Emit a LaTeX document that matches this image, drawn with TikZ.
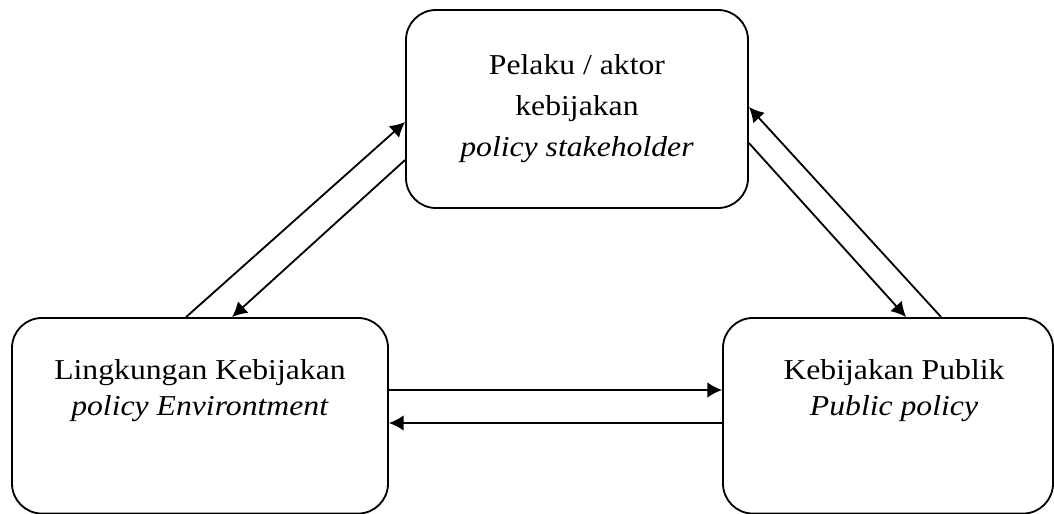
\documentclass[tikz,border=0pt]{standalone}
\usepackage{fontspec}
\setmainfont[FakeStretch=1.1]{Liberation Serif}
\usetikzlibrary{arrows.meta}

\begin{document}
\begin{tikzpicture}[line width=1.3pt,
        box/.style={draw, rounded corners=0.75cm},
        txt/.style={align=center, font=\fontsize{20.5}{25.6}\selectfont},
        arr/.style={-{Latex[length=0.37cm,width=0.39cm]}}]
        \useasboundingbox (0,0) rectangle (26.35,-12.85);

        \node[box, txt, minimum width=8.55cm, minimum height=4.95cm,
              font=\fontsize{20.5}{29.2}\selectfont] (T) at (14.425,-2.725)
              {Pelaku / aktor\\kebijakan\\\textit{policy stakeholder}};
        \node[box, minimum width=9.4cm, minimum height=4.89cm] (L) at (5.0,-10.394) {};
        \node[box, minimum width=8.25cm, minimum height=4.89cm] (R) at (22.2,-10.394) {};

        \node[txt] (Ltext) at ([yshift=0.64cm]L.center)
              {Lingkungan Kebijakan\\\textit{policy Environtment}};
        \node[txt] (Rtext) at ([xshift=0.15cm,yshift=0.64cm]R.center)
              {Kebijakan Publik\\\textit{Public policy}};

        \draw[arr] ([xshift=4.375cm]L.north west) -- ([yshift=-0.325cm]T.west);
        \draw[arr] ([yshift=-1.275cm]T.west) -- ([xshift=5.525cm]L.north west);
        \draw[arr] ([xshift=5.475cm]R.north west) -- ([yshift=0.05cm]T.east);
        \draw[arr] ([yshift=-0.85cm]T.east) -- ([xshift=4.6cm]R.north west);
        \draw[arr] ([yshift=0.644cm]L.east) -- ([yshift=0.644cm]R.west);
        \draw[arr] ([yshift=-0.181cm]R.west) -- ([yshift=-0.181cm]L.east);
\end{tikzpicture}
\end{document}
